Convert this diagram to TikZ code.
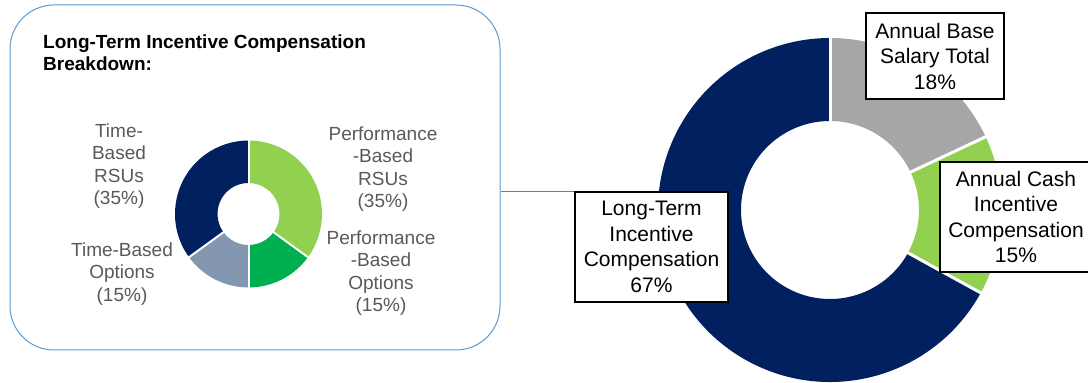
\documentclass[tikz,border=0pt]{standalone}
\usepackage{fontspec}
\setmainfont{Liberation Sans}
\definecolor{navy}{HTML}{002060}
\definecolor{lgreen}{HTML}{92D050}
\definecolor{dgreen}{HTML}{00B050}
\definecolor{gblue}{HTML}{8497B0}
\definecolor{lgrey}{HTML}{A6A6A6}
\definecolor{txtgrey}{HTML}{595959}
\definecolor{frame}{HTML}{5B9BD5}
\definecolor{conn}{HTML}{4A86C0}
\begin{document}
\begin{tikzpicture}[x=1pt,y=1pt,
  smalllbl/.style={align=center,text=txtgrey,inner sep=0pt,font=\fontsize{19}{22.5}\selectfont},
  biglbl/.style={draw=black,line width=1.3pt,fill=white,align=center,inner sep=0pt,font=\fontsize{21}{25.5}\selectfont},
  gap/.style={draw=white,line width=2.5pt}]
\useasboundingbox (0,0) rectangle (1088,383);
\clip (0,0) rectangle (1088,383);
% ---- inset frame
\node[draw=frame,line width=1pt,rounded corners=44pt,minimum width=490pt,minimum height=345pt,inner sep=0pt] (inset) at (255,205.5) {};
\node[anchor=west,inner sep=0pt,align=left,font=\bfseries\fontsize{19}{22}\selectfont] (title) at (43,330) {Long-Term Incentive Compensation\\Breakdown:};
% ---- small donut
\coordinate (sc) at (248.5,169);
\def\sR{73.5}\def\sr{31}
\fill[lgreen] ([shift={(90:\sR)}]sc) arc[start angle=90,end angle=-36,radius=\sR] -- ([shift={(-36:\sr)}]sc) arc[start angle=-36,end angle=90,radius=\sr] -- cycle;
\fill[dgreen] ([shift={(-36:\sR)}]sc) arc[start angle=-36,end angle=-90,radius=\sR] -- ([shift={(-90:\sr)}]sc) arc[start angle=-90,end angle=-36,radius=\sr] -- cycle;
\fill[gblue] ([shift={(-90:\sR)}]sc) arc[start angle=-90,end angle=-144,radius=\sR] -- ([shift={(-144:\sr)}]sc) arc[start angle=-144,end angle=-90,radius=\sr] -- cycle;
\fill[navy] ([shift={(-144:\sR)}]sc) arc[start angle=-144,end angle=-270,radius=\sR] -- ([shift={(-270:\sr)}]sc) arc[start angle=-270,end angle=-144,radius=\sr] -- cycle;
\foreach \a in {90,-36,-90,-144}
  \draw[gap,line width=2pt] ([shift={(\a:\sr-1)}]sc) -- ([shift={(\a:\sR+1)}]sc);
\node[smalllbl] (tbr) at (119,217) {Time-\\Based\\RSUs\\(35\%)};
\node[smalllbl] (pbr) at (383,214) {Performance\\-Based\\RSUs\\(35\%)};
\node[smalllbl] (tbo) at (122,109) {Time-Based\\Options\\(15\%)};
\node[smalllbl] (pbo) at (381,110) {Performance\\-Based\\Options\\(15\%)};
% ---- big donut
\coordinate (bc) at (830,173);
\def\bR{172}\def\br{89}
\fill[lgrey] ([shift={(90:\bR)}]bc) arc[start angle=90,end angle=25.2,radius=\bR] -- ([shift={(25.2:\br)}]bc) arc[start angle=25.2,end angle=90,radius=\br] -- cycle;
\fill[lgreen] ([shift={(25.2:\bR)}]bc) arc[start angle=25.2,end angle=-28.8,radius=\bR] -- ([shift={(-28.8:\br)}]bc) arc[start angle=-28.8,end angle=25.2,radius=\br] -- cycle;
\fill[navy] ([shift={(-28.8:\bR)}]bc) arc[start angle=-28.8,end angle=-270,radius=\bR] -- ([shift={(-270:\br)}]bc) arc[start angle=-270,end angle=-28.8,radius=\br] -- cycle;
\foreach \a in {90,25.2,-28.8}
  \draw[gap,line width=3pt] ([shift={(\a:\br-1)}]bc) -- ([shift={(\a:\bR+1)}]bc);
\node[biglbl,minimum width=153pt,minimum height=110pt] (lti) at (651.5,136) {Long-Term\\Incentive\\Compensation\\67\%};
\node[biglbl,minimum width=138pt,minimum height=86pt] (base) at (935,327) {Annual Base\\Salary Total\\18\%};
\node[biglbl,minimum width=152pt,minimum height=110pt] (cash) at (1016,166) {Annual Cash\\Incentive\\Compensation\\15\%};
% ---- connector
\draw[conn,line width=1pt] (lti.north west) -- (lti.north west -| inset.east);
\end{tikzpicture}
\end{document}
